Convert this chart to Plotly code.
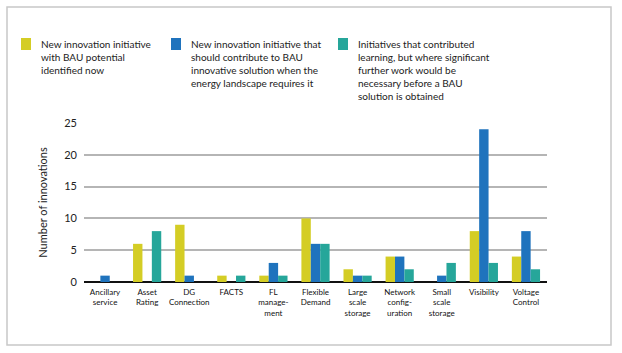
import plotly.graph_objects as go

categories = ["Ancillary<br>service", "Asset<br>Rating", "DG<br>Connection", "FACTS",
              "FL<br>manage-<br>ment", "Flexible<br>Demand", "Large<br>scale<br>storage",
              "Network<br>config-<br>uration", "Small<br>scale<br>storage", "Visibility",
              "Voltage<br>Control"]
bau_now = [0, 6, 9, 1, 1, 10, 2, 4, 0, 8, 4]
bau_future = [1, 0, 1, 0, 3, 6, 1, 4, 1, 24, 8]
learning = [0, 8, 0, 1, 1, 6, 1, 2, 3, 3, 2]

series_names = [
    "New innovation initiative<br>with BAU potential<br>identified now",
    "New innovation initiative that<br>should contribute to BAU<br>innovative solution when the<br>energy landscape requires it",
    "Initiatives that contributed<br>learning, but where significant<br>further work would be<br>necessary before a BAU<br>solution is obtained",
]
colors = ["#D4CD25", "#1F73BD", "#26A69A"]
y_ticks = [0, 5, 10, 15, 20, 25]

FONT = "Lato"
fig = go.Figure()
for vals, name, col in zip([bau_now, bau_future, learning], series_names, colors):
    fig.add_trace(go.Bar(x=categories, y=vals, name=name, marker_color=col,
                         marker_line_width=0, showlegend=False))

W, H = 622, 353
L, R, T, B = 84, 75, 123, 71
pw, ph = W - L - R, H - T - B

def px(x):
    return (x - L) / pw

def py(y):
    return (H - B - y) / ph

# manual legend: square swatch + multi-line text per series
legend_x = [21, 171, 338]
shapes = [dict(type="rect", xref="paper", yref="paper",
               x0=px(7), x1=px(611), y0=py(345), y1=py(7),
               line=dict(color="#C8C8C8", width=1.5), layer="below")]
annotations = []
for lx, name, col in zip(legend_x, series_names, colors):
    shapes.append(dict(type="rect", xref="paper", yref="paper",
                       x0=px(lx), x1=px(lx + 10), y0=py(50), y1=py(38),
                       fillcolor=col, line=dict(width=0)))
    annotations.append(dict(xref="paper", yref="paper", x=px(lx + 18), y=py(36),
                            xanchor="left", yanchor="top", align="left",
                            showarrow=False, text=name,
                            font=dict(family=FONT, size=10, color="#222222")))

fig.update_layout(
    width=W, height=H,
    margin=dict(l=L, r=R, t=T, b=B),
    paper_bgcolor="white", plot_bgcolor="white",
    barmode="group", bargap=0.33, bargroupgap=0,
    font=dict(family=FONT, color="#222222"),
    showlegend=False,
    xaxis=dict(tickfont=dict(family=FONT, size=8, color="#111111"),
               showgrid=False, ticks="", ticklabelstandoff=4, showline=False),
    yaxis=dict(range=[0, 25], tickvals=y_ticks, showgrid=True,
               gridcolor="#B5B5B5", gridwidth=1.5,
               zeroline=True, zerolinecolor="#111111", zerolinewidth=2,
               tickfont=dict(family=FONT, size=11, color="#222222"),
               ticklabelstandoff=6,
               title=dict(text="Number of innovations",
                          font=dict(family=FONT, size=11, color="#222222"),
                          standoff=14)),
    shapes=shapes,
    annotations=annotations,
)

fig.write_html("out.html")
